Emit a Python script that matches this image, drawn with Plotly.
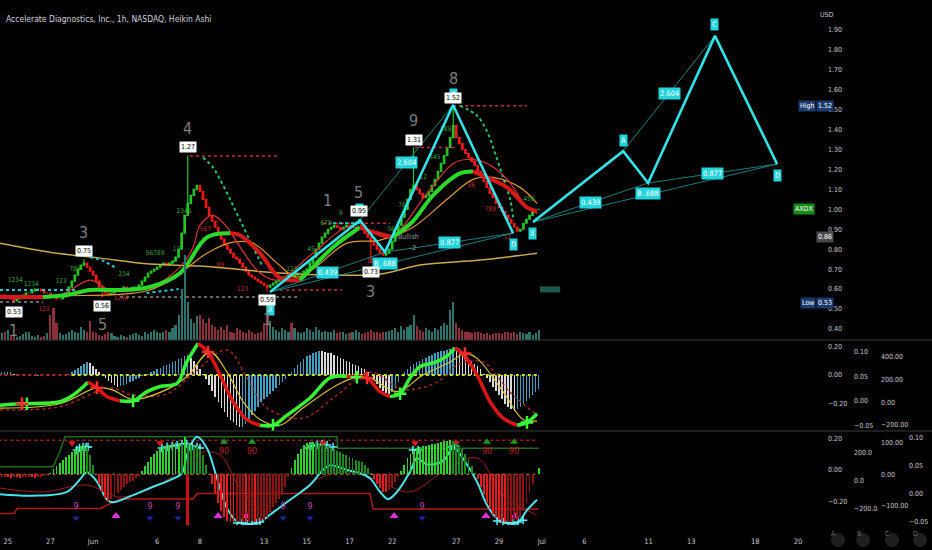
import plotly.graph_objects as go

FONT = "Liberation Sans Narrow, DejaVu Sans Condensed, Roboto, sans-serif"
TXT = "#c8c8c8"
PLOT_H = 525  # px of plotting area (time axis below)

# ---------- price pane: 1h Heikin Ashi, 7 bars per trading day ----------
first_day = -1            # day 0 = May 25, holidays/weekends skipped
bars_per_day = 7
ha_close = [
    [0.58, 0.58, 0.57, 0.57, 0.57, 0.57, 0.56],  # May 24
    [0.56, 0.55, 0.54, 0.55, 0.56, 0.57, 0.58],  # May 25
    [0.58, 0.59, 0.60, 0.60, 0.59, 0.58, 0.58],  # May 26
    [0.57, 0.56, 0.55, 0.55, 0.56, 0.58, 0.61],  # May 27
    [0.64, 0.67, 0.70, 0.72, 0.73, 0.71, 0.69],  # May 31
    [0.67, 0.64, 0.61, 0.59, 0.58, 0.57, 0.58],  # Jun 1
    [0.59, 0.60, 0.60, 0.61, 0.60, 0.60, 0.61],  # Jun 2
    [0.61, 0.62, 0.64, 0.66, 0.68, 0.69, 0.70],  # Jun 3
    [0.71, 0.72, 0.73, 0.72, 0.73, 0.74, 0.76],  # Jun 6
    [0.80, 0.88, 0.97, 1.03, 1.07, 1.10, 1.12],  # Jun 7
    [1.09, 1.05, 1.01, 0.97, 0.94, 0.91, 0.88],  # Jun 8
    [0.85, 0.82, 0.80, 0.78, 0.76, 0.75, 0.73],  # Jun 9
    [0.71, 0.69, 0.67, 0.66, 0.65, 0.64, 0.63],  # Jun 10
    [0.62, 0.61, 0.62, 0.63, 0.64, 0.65, 0.66],  # Jun 13
    [0.66, 0.67, 0.66, 0.67, 0.68, 0.68, 0.69],  # Jun 14
    [0.70, 0.73, 0.76, 0.80, 0.83, 0.86, 0.88],  # Jun 15
    [0.90, 0.91, 0.92, 0.91, 0.90, 0.91, 0.92],  # Jun 16
    [0.91, 0.92, 0.93, 0.93, 0.91, 0.88, 0.86],  # Jun 17
    [0.84, 0.82, 0.80, 0.78, 0.77, 0.78, 0.80],  # Jun 21
    [0.84, 0.88, 0.92, 0.96, 1.00, 1.05, 1.10],  # Jun 22
    [1.12, 1.10, 1.08, 1.06, 1.07, 1.09, 1.12],  # Jun 23
    [1.15, 1.19, 1.23, 1.27, 1.31, 1.36, 1.42],  # Jun 24
    [1.36, 1.33, 1.30, 1.28, 1.26, 1.24, 1.22],  # Jun 27
    [1.19, 1.17, 1.14, 1.11, 1.08, 1.06, 1.03],  # Jun 28
    [1.01, 0.99, 0.97, 0.95, 0.93, 0.91, 0.89],  # Jun 29
    [0.90, 0.93, 0.95, 0.97, 0.99, 1.00, 1.00],  # Jun 30
]
volume = [
    [6, 5, 4, 6, 5, 8, 10], [12, 6, 5, 4, 5, 7, 9], [10, 5, 4, 6, 4, 5, 8],
    [30, 38, 20, 8, 6, 7, 10], [12, 10, 8, 15, 12, 10, 22], [10, 8, 6, 5, 7, 9, 8],
    [5, 4, 6, 5, 4, 6, 7], [8, 6, 5, 9, 7, 10, 12], [10, 8, 9, 12, 10, 14, 18],
    [30, 60, 100, 45, 25, 20, 28], [30, 25, 20, 26, 18, 15, 12], [15, 12, 18, 10, 8, 14, 12],
    [10, 8, 12, 9, 7, 8, 10], [20, 47, 22, 15, 12, 10, 14], [12, 10, 20, 14, 9, 8, 10],
    [14, 12, 10, 15, 12, 10, 11], [10, 9, 12, 8, 10, 9, 7], [8, 10, 12, 9, 7, 8, 10],
    [12, 10, 9, 8, 10, 9, 11], [12, 14, 10, 16, 12, 15, 18], [29, 16, 12, 10, 14, 12, 10],
    [14, 12, 16, 20, 18, 35, 45], [20, 14, 12, 10, 9, 8, 10], [9, 8, 7, 8, 6, 7, 8],
    [8, 7, 9, 10, 8, 9, 7], [10, 8, 7, 9, 6, 8, 12],
]

# swing pivots: trading day, bar of day, price, +1 high / -1 low, wave count
piv_day = [0, 3, 4, 8, 12, 16, 17, 19, 20]
piv_bar = [2, 4, 3, 3, 1, 3, 0, 0, 6]
piv_price = [0.53, 0.75, 0.56, 1.27, 0.59, 0.95, 0.73, 1.31, 1.52]
piv_side = [-1, 1, -1, 1, -1, 1, -1, 1, 1]
piv_wave = ["1", "3", "5", "4", "1", "5", "3", "9", "8"]
extra_wave_day, extra_wave_price, extra_wave_text = [14.95], [1.045], ["1"]

# sequential counts printed above / below the candles
td_up_day = [0.35, 1.1, 2.5, 3.15, 5.45, 6.9, 7.9, 8.25, 13.3, 14.2, 14.9, 15.6, 17.95, 18.55, 19.45,
             20.0, 20.5, 24.4]
td_up_val = [0.645, 0.625, 0.64, 0.70, 0.675, 0.78, 0.80, 0.99, 0.70, 0.80, 0.93, 0.98, 0.90, 1.02,
             1.16, 1.26, 1.40, 1.05]
td_up_txt = ["1234", "1234", "123", "789", "234", "56789", "12", "2345", "123", "45", "678", "9",
             "56", "789", "12", "345", "789", "456"]
td_dn_day = [1.7, 5.3, 9.25, 9.95, 11.0, 17.15, 21.7, 22.6, 23.4]
td_dn_val = [0.50, 0.555, 0.90, 0.72, 0.60, 0.74, 1.12, 1.00, 0.86]
td_dn_txt = ["123", "1234", "567", "89", "123", "1234", "56", "789", "12"]

# moving averages (day, price)
ma_thick_day = [-0.36, 1.65, 2.78, 3.85, 5.26, 6.66, 8.07, 9.33, 10.41, 10.88, 11.81, 12.75, 13.68,
                14.29, 15.23, 16.49, 16.82, 18.04, 18.97, 19.91, 21.17, 21.78, 22.44, 23.38, 24.31, 24.78]
ma_thick_val = [0.56, 0.56, 0.57, 0.595, 0.595, 0.61, 0.68, 0.86, 0.88, 0.87, 0.78, 0.655, 0.645,
                0.71, 0.81, 0.91, 0.895, 0.86, 0.94, 1.07, 1.18, 1.19, 1.16, 1.11, 1.01, 0.99]
ma_thick_dir = "rgggggggrrrrgggrrggggrrrrr"
ma_fast_day = [-0.36, 2.45, 3.85, 4.79, 6.66, 8.07, 8.68, 9.00, 9.61, 10.27, 10.88, 11.81, 12.61,
               14.29, 15.88, 16.82, 17.90, 19.63, 20.85, 21.50, 22.44, 23.38, 24.31, 24.78]
ma_fast_val = [0.56, 0.57, 0.645, 0.595, 0.61, 0.71, 0.81, 0.92, 0.97, 0.91, 0.81, 0.68, 0.645,
               0.78, 0.91, 0.895, 0.86, 1.08, 1.23, 1.25, 1.23, 1.15, 1.01, 0.98]
ma_mid_day = [-0.36, 2.45, 6.66, 8.07, 9.33, 10.55, 11.49, 12.61, 13.5, 14.29, 15.88, 17.43, 18.97,
              20.57, 21.78, 22.72, 23.98, 24.78]
ma_mid_val = [0.56, 0.565, 0.595, 0.68, 0.78, 0.835, 0.83, 0.73, 0.66, 0.70, 0.83, 0.845, 0.91,
              1.05, 1.15, 1.16, 1.11, 1.03]
ma_slow_day = [-0.36, 1.98, 4.32, 6.66, 9.0, 12.75, 15.09, 17.43, 19.30, 22.11, 24.78]
ma_slow_val = [0.83, 0.785, 0.755, 0.725, 0.715, 0.68, 0.67, 0.675, 0.72, 0.745, 0.78]

# parabolic SAR stretches
sar_cyan_day = [-0.36, 3.16, None, 3.85, 4.5, 5.0, None, 6.5, 8.0, None, 15.23, 16.49]
sar_cyan_val = [0.595, 0.595, None, 0.76, 0.74, 0.71, None, 0.58, 0.60, None, 0.93, 0.93]
sar_green_day = [9.14, 9.61, 9.94, 10.41, 10.88, 11.49, 11.95, None,
                 21.17, 21.97, 22.44, 22.82, 23.19, 23.52, 23.66]
sar_green_val = [1.26, 1.21, 1.15, 1.05, 0.945, 0.81, 0.71, None,
                 1.52, 1.47, 1.39, 1.28, 1.16, 1.05, 0.96]

# dotted support / resistance levels
lvl_price = [1.267, 1.31, 1.52, 0.93, 0.595, 0.56, 0.535]
lvl_from = [8.53, 19.07, 20.85, 14.76, 12.75, 5.26, -0.36]
lvl_to = [12.65, 21.04, 24.31, 17.90, 15.65, 13.68, 1.65]
lvl_color = ["#c8283c"] * 5 + ["#8a8a8a"] * 2

# harmonic XABCD: completed one and projected one
hist_day = [12.28, 16.49, 17.66, 20.85, 23.66]
hist_price = [0.585, 0.945, 0.785, 1.523, 0.88]
proj_day = [24.59, 28.81, 29.98, 33.11, 36.02]
proj_price = [0.936, 1.292, 1.132, 1.87, 1.227]
ratios = ["0.439", "2.604", "0.877"]      # XB, AC, BD
point_names = ["X", "A", "B .688", "C", "D"]

vp_day, vp_price = [24.92, 25.86], [0.598, 0.598]

# ---------- MACD pane ----------
macd_hist = [
    [0.02] * 7,
    [0.02, 0.02, 0.01, 0.01, 0.0, 0.0, 0.0],
    [0.0, 0.0, -0.005, -0.005, 0.0, 0.0, 0.0],
    [0.0, 0.0, 0.0, 0.0, 0.0, 0.005, 0.01],
    [0.02, 0.035, 0.05, 0.065, 0.08, 0.09, 0.085],
    [0.06, 0.04, 0.02, 0.0, -0.02, -0.04, -0.055],
    [-0.07, -0.08, -0.075, -0.07, -0.06, -0.05, -0.04],
    [-0.03, -0.02, -0.01, 0.0, 0.01, 0.02, 0.03],
    [0.04, 0.05, 0.06, 0.07, 0.08, 0.09, 0.10],
    [0.11, 0.12, 0.13, 0.14, 0.12, 0.10, 0.07],
    [0.04, 0.01, -0.03, -0.07, -0.11, -0.15, -0.19],
    [-0.23, -0.26, -0.29, -0.31, -0.33, -0.35, -0.36],
    [-0.36, -0.34, -0.31, -0.28, -0.25, -0.22, -0.19],
    [-0.17, -0.15, -0.13, -0.11, -0.09, -0.07, -0.05],
    [-0.03, 0.0, 0.02, 0.05, 0.07, 0.09, 0.11],
    [0.13, 0.14, 0.15, 0.16, 0.167, 0.165, 0.16],
    [0.155, 0.15, 0.14, 0.13, 0.12, 0.11, 0.10],
    [0.09, 0.08, 0.07, 0.06, 0.05, 0.04, 0.02],
    [0.0, -0.03, -0.06, -0.09, -0.11, -0.125, -0.13],
    [-0.12, -0.09, -0.05, -0.01, 0.02, 0.04, 0.06],
    [0.08, 0.09, 0.10, 0.11, 0.12, 0.13, 0.14],
    [0.15, 0.16, 0.165, 0.17, 0.175, 0.18, 0.18],
    [0.17, 0.16, 0.15, 0.14, 0.12, 0.10, 0.08],
    [0.06, 0.04, 0.01, -0.02, -0.05, -0.08, -0.11],
    [-0.14, -0.17, -0.20, -0.22, -0.24, -0.25, -0.24],
    [-0.22, -0.20, -0.18, -0.16, -0.14, -0.12, -0.10],
]
macd_day = [-0.36, 0.58, 2.45, 3.06, 3.76, 4.18, 4.65, 5.26, 5.87, 6.52, 7.13, 7.93, 8.39, 8.91, 9.38,
            9.94, 10.55, 11.20, 11.81, 12.42, 13.08, 14.15, 15.09, 15.88, 16.35, 16.82, 17.43, 17.90,
            18.37, 18.84, 19.30, 20.10, 20.71, 20.94, 21.31, 21.97, 22.58, 23.19, 23.85, 24.31, 24.78]
macd_val = [-0.21, -0.20, -0.186, -0.14, -0.05, -0.088, -0.15, -0.18, -0.18, -0.116, -0.08, -0.058,
            0.093, 0.22, 0.16, 0.0, -0.186, -0.31, -0.35, -0.35, -0.28, -0.16, -0.02, -0.01, -0.015,
            -0.02, -0.116, -0.15, -0.13, -0.02, 0.058, 0.093, 0.15, 0.19, 0.15, 0.0, -0.186, -0.30,
            -0.35, -0.33, -0.27]
signal_day = [-0.36, 2.45, 4.18, 4.93, 5.87, 7.46, 8.39, 9.47, 10.27, 11.02, 11.81, 12.75, 13.82,
              15.42, 16.35, 16.96, 18.23, 19.44, 20.71, 21.41, 21.97, 23.19, 24.13, 24.78]
signal_val = [-0.23, -0.20, -0.088, -0.105, -0.17, -0.10, -0.01, 0.16, 0.02, -0.186, -0.31, -0.35,
              -0.23, -0.07, -0.015, -0.02, -0.116, 0.0, 0.09, 0.15, 0.116, -0.116, -0.31, -0.32]
slow_day = [-0.36, 2.45, 4.79, 5.87, 7.46, 8.68, 10.27, 11.20, 12.14, 13.82, 15.42, 16.96, 18.51,
            20.10, 21.04, 22.25, 23.52, 24.78]
slow_val = [-0.244, -0.22, -0.09, -0.14, -0.13, 0.01, 0.174, -0.02, -0.23, -0.30, -0.14, 0.02,
            -0.10, -0.05, 0.07, 0.09, -0.12, -0.28]
cross_up_day, cross_up_val = [0.90, 5.87, 12.42, 16.35, 18.37, 24.31], [-0.20, -0.18, -0.35, -0.015, -0.13, -0.33]
cross_dn_day, cross_dn_val = [0.67, 4.18, 9.38, 16.82, 21.41], [-0.20, -0.088, 0.16, -0.02, 0.15]

# ---------- oscillator pane ----------
osc_hist = [
    [-8, -8, -10, -8, -10, -8, -8],
    [-10, -12, -8, -10, -12, -10, -8],
    [-8, -10, -12, -10, -8, -6, -4],
    [5, 15, 25, 35, 45, 55, 62],
    [70, 76, 82, 88, 91, 85, 60],
    [30, 0, -30, -55, -75, -87, -80],
    [-70, -60, -50, -40, -32, -26, -20],
    [-12, -5, 10, 25, 40, 55, 65],
    [72, 80, 86, 90, 94, 96, 98],
    [98, 95, 118, 96, 92, 90, 88],
    [80, 60, 30, 0, -30, -60, -90],
    [-115, -135, -148, -150, -152, -150, -150],
    [-150, -152, -150, -148, -150, -150, -148],
    [-145, -135, -120, -105, -90, -78, -65],
    [-40, -10, 20, 45, 65, 80, 92],
    [98, 102, 102, 100, 98, 95, 92],
    [88, 84, 80, 75, 70, 65, 60],
    [55, 50, 46, 42, 38, 30, 20],
    [5, -15, -30, -45, -55, -56, -50],
    [-40, -25, -10, 10, 30, 50, 65],
    [75, 82, 85, 88, 90, 92, 95],
    [97, 100, 102, 104, 105, 107, 106],
    [100, 92, 80, 65, 45, 25, 5],
    [-15, -40, -65, -90, -110, -125, -138],
    [-145, -150, -152, -150, -150, -148, -145],
    [-135, -115, -90, -60, -30, 0, 19],
]
spike_day, spike_val = [8.43], [-160]
wave_day = [-0.36, 1.18, 2.78, 3.36, 3.71, 4.18, 4.65, 4.93, 5.87, 6.80, 7.60, 8.16, 8.39, 8.86, 9.33,
            9.80, 10.27, 10.74, 11.20, 11.81, 12.28, 13.22, 14.15, 14.76, 15.09, 15.88, 16.49, 16.96,
            17.43, 17.80, 18.23, 18.84, 19.16, 19.63, 20.38, 20.80, 20.94, 21.31, 21.97, 22.44, 22.91,
            23.38, 23.85, 24.31, 24.78]
wave_val = [-0.155, -0.164, -0.139, -0.064, -0.015, -0.075, -0.19, -0.206, -0.16, -0.107, -0.064,
            -0.02, 0.096, 0.213, 0.139, -0.053, -0.245, -0.33, -0.343, -0.33, -0.285, -0.19, -0.096,
            0.0, 0.03, 0.0, -0.02, -0.053, -0.139, -0.186, -0.139, -0.01, 0.075, 0.036, 0.058, 0.139,
            0.14, 0.075, -0.075, -0.224, -0.31, -0.34, -0.34, -0.256, -0.19]
wave_sig_day = [-0.36, 1.65, 3.71, 5.26, 7.46, 9.00, 9.94, 10.88, 12.14, 14.62, 16.17, 17.76, 18.84,
                20.38, 21.97, 23.19, 24.78]
wave_sig_val = [-0.115, -0.14, -0.096, -0.173, -0.064, 0.109, 0.096, -0.115, -0.268, -0.051, -0.013,
                -0.096, -0.14, -0.013, 0.077, -0.16, -0.288]
band_hi_day = [-0.36, 2.12, 2.45, 2.68, 15.42, 15.45, 24.86]
band_hi_val = [0.021, 0.021, 0.12, 0.213, 0.213, 0.139, 0.139]
band_lo_day = [-0.36, 0.30, 0.44, 4.32, 5.26, 8.68, 8.86, 16.96, 17.10, 24.86]
band_lo_val = [-0.277, -0.277, -0.245, -0.245, -0.185, -0.185, -0.15, -0.15, -0.249, -0.249]
ob_day = [3.24, 3.36, 3.53, 3.67, 3.76, 7.22, 7.46, 7.70, 7.93, 8.16, 8.39, 8.63, 8.86, 9.00,
          14.01, 14.25, 14.48, 14.71, 14.95, 15.23, 18.97, 19.21, 20.71, 20.94]
ob_val = [0.128, 0.141, 0.147, 0.147, 0.147, 0.141, 0.147, 0.153, 0.16, 0.166, 0.166, 0.153, 0.147,
          0.141, 0.141, 0.153, 0.16, 0.166, 0.16, 0.147, 0.128, 0.128, 0.147, 0.153]
os_day = [10.74, 10.97, 11.20, 11.44, 11.67, 11.81, 22.91, 23.19, 23.42, 23.66, 23.89, 24.13]
os_val = [-0.339, -0.339, -0.345, -0.345, -0.339, -0.332, -0.326, -0.332, -0.339, -0.339, -0.332, -0.32]
sell_day = [3.01, 7.13, 14.76, 19.07, 20.99]
buy_day = [10.13, 11.44, 22.44, 23.70]
nine_day = [3.20, 6.66, 7.97, 12.89, 14.15, 19.40]
low_sig_day = [5.07, 9.85, 11.16, 18.09, 22.39, 23.75]

# ---------- time axis ----------
tick_day = [0, 2, 4, 7, 9, 12, 14, 16, 18, 21, 23, 25, 27, 30, 32, 35, 37]
tick_text = ["25", "27", "Jun", "6", "8", "13", "15", "17", "22", "27", "29", "Jul",
             "6", "11", "13", "18", "20"]


def flat(rows):
    return [v for r in rows for v in r]


closes = flat(ha_close)
bar_x = [first_day + i / bars_per_day for i in range(len(closes))]
opens = [closes[0]] + closes[:-1]
highs = [max(o, c) for o, c in zip(opens, closes)]
lows = [min(o, c) for o, c in zip(opens, closes)]
piv_x = []
for d, b, p, s in zip(piv_day, piv_bar, piv_price, piv_side):
    i = (d - first_day) * bars_per_day + b
    piv_x.append(bar_x[i])
    if s > 0:
        highs[i] = p
    else:
        lows[i] = p

vols = flat(volume)
vol_col = ["#2b746c" if c >= o else "#8c2f3a" for o, c in zip(opens, closes)]


def rise_colors(vals, up, down):
    return [up if i == 0 or v >= vals[i - 1] else down for i, v in enumerate(vals)]


def split_line(xs, ys, cols, width, yaxis, shape="spline"):
    out = []
    i = 0
    while i < len(xs) - 1:
        j = i
        while j + 1 < len(xs) - 1 and cols[j + 1] == cols[i]:
            j += 1
        out.append(go.Scatter(x=xs[i:j + 2], y=ys[i:j + 2], mode="lines", yaxis=yaxis,
                              line=dict(color=cols[i], width=width, shape=shape)))
        i = j + 1
    return out


fig = go.Figure()

# --- price pane ---
fig.add_trace(go.Bar(x=bar_x, y=vols, marker_color=vol_col, marker_line_width=0,
                     width=0.1, yaxis="y5"))
fig.add_trace(go.Scatter(x=vp_day, y=vp_price, mode="lines", line=dict(color="#1d5a4c", width=6)))
fig.add_trace(go.Scatter(x=ma_slow_day, y=ma_slow_val, mode="lines",
                         line=dict(color="#c9a94d", width=1.5, shape="spline")))
for lp, l0, l1, lc in zip(lvl_price, lvl_from, lvl_to, lvl_color):
    fig.add_trace(go.Scatter(x=[l0, l1], y=[lp, lp], mode="lines",
                             line=dict(color=lc, width=1.5, dash="dot")))
fig.add_trace(go.Scatter(x=sar_cyan_day, y=sar_cyan_val, mode="lines",
                         line=dict(color="#1fc9d6", width=2, dash="dot", shape="spline")))
fig.add_trace(go.Scatter(x=sar_green_day, y=sar_green_val, mode="lines",
                         line=dict(color="#22c46a", width=2, dash="dot", shape="spline")))
fig.add_trace(go.Scatter(x=ma_mid_day, y=ma_mid_val, mode="lines",
                         line=dict(color="#e0962c", width=1.2, shape="spline")))
fig.add_trace(go.Scatter(x=ma_fast_day, y=ma_fast_val, mode="lines",
                         line=dict(color="#e03030", width=1.2, shape="spline")))
thick_cols = ["#2bd92b" if c == "g" else "#d61818" for c in ma_thick_dir]
for tr in split_line(ma_thick_day, ma_thick_val, thick_cols, 4, "y"):
    fig.add_trace(tr)
fig.add_trace(go.Scatter(x=td_up_day, y=td_up_val, text=td_up_txt, mode="text",
                         textfont=dict(color="#2fa82f", size=6.5, family=FONT)))
fig.add_trace(go.Scatter(x=td_dn_day, y=td_dn_val, text=td_dn_txt, mode="text",
                         textfont=dict(color="#c02828", size=6.5, family=FONT)))
fig.add_trace(go.Candlestick(
    x=bar_x, open=opens, high=highs, low=lows, close=closes, whiskerwidth=0,
    increasing=dict(line=dict(color="#23c423", width=1.2), fillcolor="#23c423"),
    decreasing=dict(line=dict(color="#f01818", width=1.2), fillcolor="#f01818")))

# harmonic patterns
for pd, pp in ((hist_day, hist_price), (proj_day, proj_price)):
    thin_x, thin_y = [], []
    for a, b in ((0, 2), (1, 3), (2, 4), (0, 4)):
        thin_x += [pd[a], pd[b], None]
        thin_y += [pp[a], pp[b], None]
    fig.add_trace(go.Scatter(x=thin_x, y=thin_y, mode="lines", line=dict(color="#1b8c8c", width=0.9)))
    fig.add_trace(go.Scatter(x=pd, y=pp, mode="lines", line=dict(color="#2fe3e8", width=2.6)))

# --- MACD pane ---
mh = flat(macd_hist)
fig.add_trace(go.Bar(x=bar_x, y=mh, width=0.07, marker_line_width=0, yaxis="y2",
                     marker_color=rise_colors(mh, "#3f9fc2", "#d9d9d9")))
zero_split = 3.0
fig.add_trace(go.Scatter(x=[bar_x[0], zero_split], y=[0, 0], mode="lines", yaxis="y2",
                         line=dict(color="#b02828", width=2, dash="dot")))
fig.add_trace(go.Scatter(x=[zero_split, bar_x[-1]], y=[0, 0], mode="lines", yaxis="y2",
                         line=dict(color="#c8e02c", width=2, dash="dot")))
fig.add_trace(go.Scatter(x=slow_day, y=slow_val, mode="lines", yaxis="y2",
                         line=dict(color="#a82424", width=1.5, dash="dot", shape="spline")))
fig.add_trace(go.Scatter(x=signal_day, y=signal_val, mode="lines", yaxis="y2",
                         line=dict(color="#d9c234", width=1.2, shape="spline")))
for tr in split_line(macd_day, macd_val, rise_colors(macd_val, "#36f036", "#dc1414")[1:] + ["#36f036"],
                     3.5, "y2"):
    fig.add_trace(tr)
fig.add_trace(go.Scatter(x=cross_up_day, y=cross_up_val, mode="markers", yaxis="y2",
                         marker=dict(symbol="cross-thin", size=9, line=dict(color="#3cff3c", width=2.5))))
fig.add_trace(go.Scatter(x=cross_dn_day, y=cross_dn_val, mode="markers", yaxis="y2",
                         marker=dict(symbol="cross-thin", size=9, line=dict(color="#ff2a2a", width=2.5))))

# --- oscillator pane ---
oh = flat(osc_hist)
osc_col = []
for i, v in enumerate(oh):
    up = i == 0 or v >= oh[i - 1]
    if v >= 0:
        osc_col.append("#2fd12f" if up else "#1a8a1a")
    else:
        osc_col.append("#8f1212" if up else "#e01c1c")
fig.add_trace(go.Bar(x=bar_x, y=oh, width=0.09, marker_line_width=0, marker_color=osc_col, yaxis="y9"))
fig.add_trace(go.Bar(x=spike_day, y=spike_val, width=0.12, marker_line_width=0,
                     marker_color="#c81010", yaxis="y9"))
fig.add_trace(go.Scatter(x=[bar_x[0], bar_x[-1]], y=[0.19, 0.19], mode="lines", yaxis="y3",
                         line=dict(color="#9a2020", width=1.5, dash="dot")))
fig.add_trace(go.Scatter(x=[bar_x[0], bar_x[-1]], y=[-0.027, -0.027], mode="lines", yaxis="y3",
                         line=dict(color="#d08a2a", width=1.2, dash="dot")))
fig.add_trace(go.Scatter(x=band_hi_day, y=band_hi_val, mode="lines", yaxis="y3",
                         line=dict(color="#1f6a1f", width=1.5)))
fig.add_trace(go.Scatter(x=band_lo_day, y=band_lo_val, mode="lines", yaxis="y3",
                         line=dict(color="#b01818", width=1.5)))
fig.add_trace(go.Scatter(x=wave_sig_day, y=wave_sig_val, mode="lines", yaxis="y3",
                         line=dict(color="#9c1c1c", width=1, shape="spline")))
fig.add_trace(go.Scatter(x=wave_day, y=wave_val, mode="lines", yaxis="y3",
                         line=dict(color="#45e3ea", width=2, shape="spline")))
fig.add_trace(go.Scatter(x=ob_day + os_day, y=ob_val + os_val, mode="markers", yaxis="y3",
                         marker=dict(symbol="cross-thin", size=6, line=dict(color="#5ff0f5", width=1.5))))
fig.add_trace(go.Scatter(x=sell_day, y=[0.172] * len(sell_day), mode="markers", yaxis="y3",
                         marker=dict(symbol="triangle-down", size=7, color="#e01818")))
fig.add_trace(go.Scatter(x=buy_day, y=[0.179] * len(buy_day), mode="markers", yaxis="y3",
                         marker=dict(symbol="triangle-up", size=7, color="#1f9a1f")))
fig.add_trace(go.Scatter(x=buy_day, y=[0.115] * len(buy_day), mode="text", text=["90"] * len(buy_day),
                         yaxis="y3", textfont=dict(color="#c01818", size=9, family=FONT)))
fig.add_trace(go.Scatter(x=nine_day, y=[-0.236] * len(nine_day), mode="text", text=["9"] * len(nine_day),
                         yaxis="y3", textfont=dict(color="#c040c0", size=9, family=FONT)))
fig.add_trace(go.Scatter(x=nine_day, y=[-0.307] * len(nine_day), mode="markers", yaxis="y3",
                         marker=dict(symbol="triangle-down", size=6, color="#2323a8")))
fig.add_trace(go.Scatter(x=low_sig_day, y=[-0.294] * len(low_sig_day), mode="markers", yaxis="y3",
                         marker=dict(symbol="triangle-up", size=8, color="#e030e0")))

# secondary scales of the indicator panes (no plotted series of their own in view)
for extra in ("y6", "y7", "y8", "y10"):
    fig.add_trace(go.Scatter(x=[None], y=[None], mode="lines", yaxis=extra))

# --- annotations ---
ann = []


def label(x, y, text, bg, fg="white", size=7, yshift=0, yanchor="middle", xref="x", yref="y"):
    ann.append(dict(x=x, y=y, xref=xref, yref=yref, text=text, showarrow=False, bgcolor=bg,
                    font=dict(color=fg, size=size, family=FONT), borderpad=1,
                    yshift=yshift, yanchor=yanchor))


for n, (pd, pp) in enumerate(((hist_day, hist_price), (proj_day, proj_price))):
    for k, (a, b) in enumerate(((0, 2), (1, 3), (2, 4))):
        label((pd[a] + pd[b]) / 2, (pp[a] + pp[b]) / 2, ratios[k], "#22d4dc", size=7.5)
    for k, name in enumerate(point_names):
        up = k in (1, 3)
        shift = 11 if up else (-17 if (n == 0 and k == 0) else -11)
        label(pd[k], pp[k], name, "#22d4dc", size=7.5, yshift=shift)

for x, p, s, w in zip(piv_x, piv_price, piv_side, piv_wave):
    label(x, p, f"{p:.2f}", "white", fg="black", yshift=8 if s > 0 else -9)
    ann.append(dict(x=x, y=p, text=w, showarrow=False, yshift=27 if s > 0 else -28,
                    font=dict(color="#7d7d7d", size=16, family=FONT)))
for x, p, w in zip(extra_wave_day, extra_wave_price, extra_wave_text):
    ann.append(dict(x=x, y=p, text=w, showarrow=False, font=dict(color="#7d7d7d", size=16, family=FONT)))
ann.append(dict(x=18.75, y=0.86, text="Bullish", showarrow=False,
                font=dict(color="#9a9a9a", size=7, family=FONT)))
ann.append(dict(x=18.97, y=0.805, text="-2", showarrow=False,
                font=dict(color="#9a9a9a", size=7, family=FONT)))

# price scale markers
px = lambda p: p / 932
label(px(815.5), max(piv_price), "High", "#1c3a6e", xref="paper")
label(px(834), max(piv_price), f"{max(piv_price):.2f}", "#1c3a6e", xref="paper")
label(px(815.5), min(piv_price), "Low", "#1c3a6e", xref="paper")
label(px(834), min(piv_price), f"{min(piv_price):.2f}", "#1c3a6e", xref="paper")
label(px(815), closes[-1], "AXDX", "#138c13", xref="paper")
label(px(834), 0.86, "0.86", "#4a4a4a", xref="paper")

ann.append(dict(x=4 / 932, y=(PLOT_H - 12) / PLOT_H, xref="paper", yref="paper", xanchor="left",
                text="Accelerate Diagnostics, Inc., 1h, NASDAQ, Heikin Ashi", showarrow=False,
                font=dict(color="#d1d4dc", size=8.5, family=FONT)))
ann.append(dict(x=836 / 932, y=(PLOT_H - 9) / PLOT_H, xref="paper", yref="paper",
                text="USD", showarrow=False, font=dict(color=TXT, size=7, family=FONT)))

shapes = [
    dict(type="line", xref="paper", yref="paper", x0=0, x1=1, y0=(PLOT_H - 340) / PLOT_H,
         y1=(PLOT_H - 340) / PLOT_H, line=dict(color="#3a3a3a", width=1)),
    dict(type="line", xref="paper", yref="paper", x0=0, x1=1, y0=(PLOT_H - 431) / PLOT_H,
         y1=(PLOT_H - 431) / PLOT_H, line=dict(color="#3a3a3a", width=1)),
]
for cx, letter in zip([838, 863, 892, 920], "ABCD"):
    shapes.append(dict(type="circle", xref="paper", yref="paper", x0=(cx - 7) / 932, x1=(cx + 7) / 932,
                       y0=(PLOT_H - 547) / PLOT_H, y1=(PLOT_H - 533) / PLOT_H,
                       fillcolor="#1f1f1f", line=dict(width=0)))
    ann.append(dict(x=cx / 932, y=(PLOT_H - 540) / PLOT_H, xref="paper", yref="paper", text=letter,
                    showarrow=False, font=dict(color="#6a6a6a", size=7, family=FONT)))

dom_main = [(PLOT_H - 340) / PLOT_H, 1]
dom_macd = [(PLOT_H - 431) / PLOT_H, (PLOT_H - 340) / PLOT_H]
dom_osc = [0, (PLOT_H - 431) / PLOT_H]


def yax(rng, ticks, fmt, pos, domain=None, over=None, visible=True):
    d = dict(range=rng, tickvals=ticks, tickformat=fmt, side="right", anchor="free", position=pos,
             showgrid=False, zeroline=False, showline=False, ticks="", visible=visible,
             tickfont=dict(color=TXT, size=7, family=FONT))
    if domain:
        d["domain"] = domain
    if over:
        d["overlaying"] = over
    return d


p1, p2, p3, p4 = 827 / 932, 853 / 932, 880 / 932, 908 / 932
fig.update_layout(
    width=932, height=550, margin=dict(l=0, r=0, t=0, b=550 - PLOT_H),
    paper_bgcolor="#000000", plot_bgcolor="#000000", showlegend=False, hovermode=False,
    barmode="overlay", bargap=0,
    xaxis=dict(domain=[0, 822 / 932], range=[-0.36, 38.12], anchor="y3", tickvals=tick_day,
               ticktext=tick_text, showgrid=False, zeroline=False, showline=False, ticks="",
               rangeslider=dict(visible=False), ticklabelstandoff=10,
               tickfont=dict(color=TXT, size=7.5, family=FONT)),
    yaxis=yax([0.3442, 2.0502], [0.4 + 0.1 * i for i in range(16)], ".2f", p1, domain=dom_main),
    yaxis5=yax([0, 400], None, None, p1, over="y", visible=False),
    yaxis2=yax([-0.390, 0.2439], [-0.2, 0, 0.2], ".2f", p1, domain=dom_macd),
    yaxis6=yax([-0.0618, 0.1239], [-0.05, 0, 0.05, 0.1], ".2f", p2, over="y2"),
    yaxis7=yax([-252.9, 548.9], [-200, 0, 200, 400], ".2f", p3, over="y2"),
    yaxis3=yax([-0.351, 0.249], [-0.2, 0, 0.2], ".2f", p1, domain=dom_osc),
    yaxis8=yax([-319.9, 358.8], [-200, 0, 200], ".1f", p2, over="y3"),
    yaxis9=yax([-160.9, 136.8], [-100, 0, 100], ".2f", p3, over="y3"),
    yaxis10=yax([-0.0566, 0.1113], [-0.05, 0, 0.05, 0.1], ".2f", p4, over="y3"),
    annotations=ann, shapes=shapes,
)
fig.update_traces(hoverinfo="skip")

fig.write_html("out.html", config={"displayModeBar": False, "staticPlot": True},
               post_script="document.body.style.margin='0';")
